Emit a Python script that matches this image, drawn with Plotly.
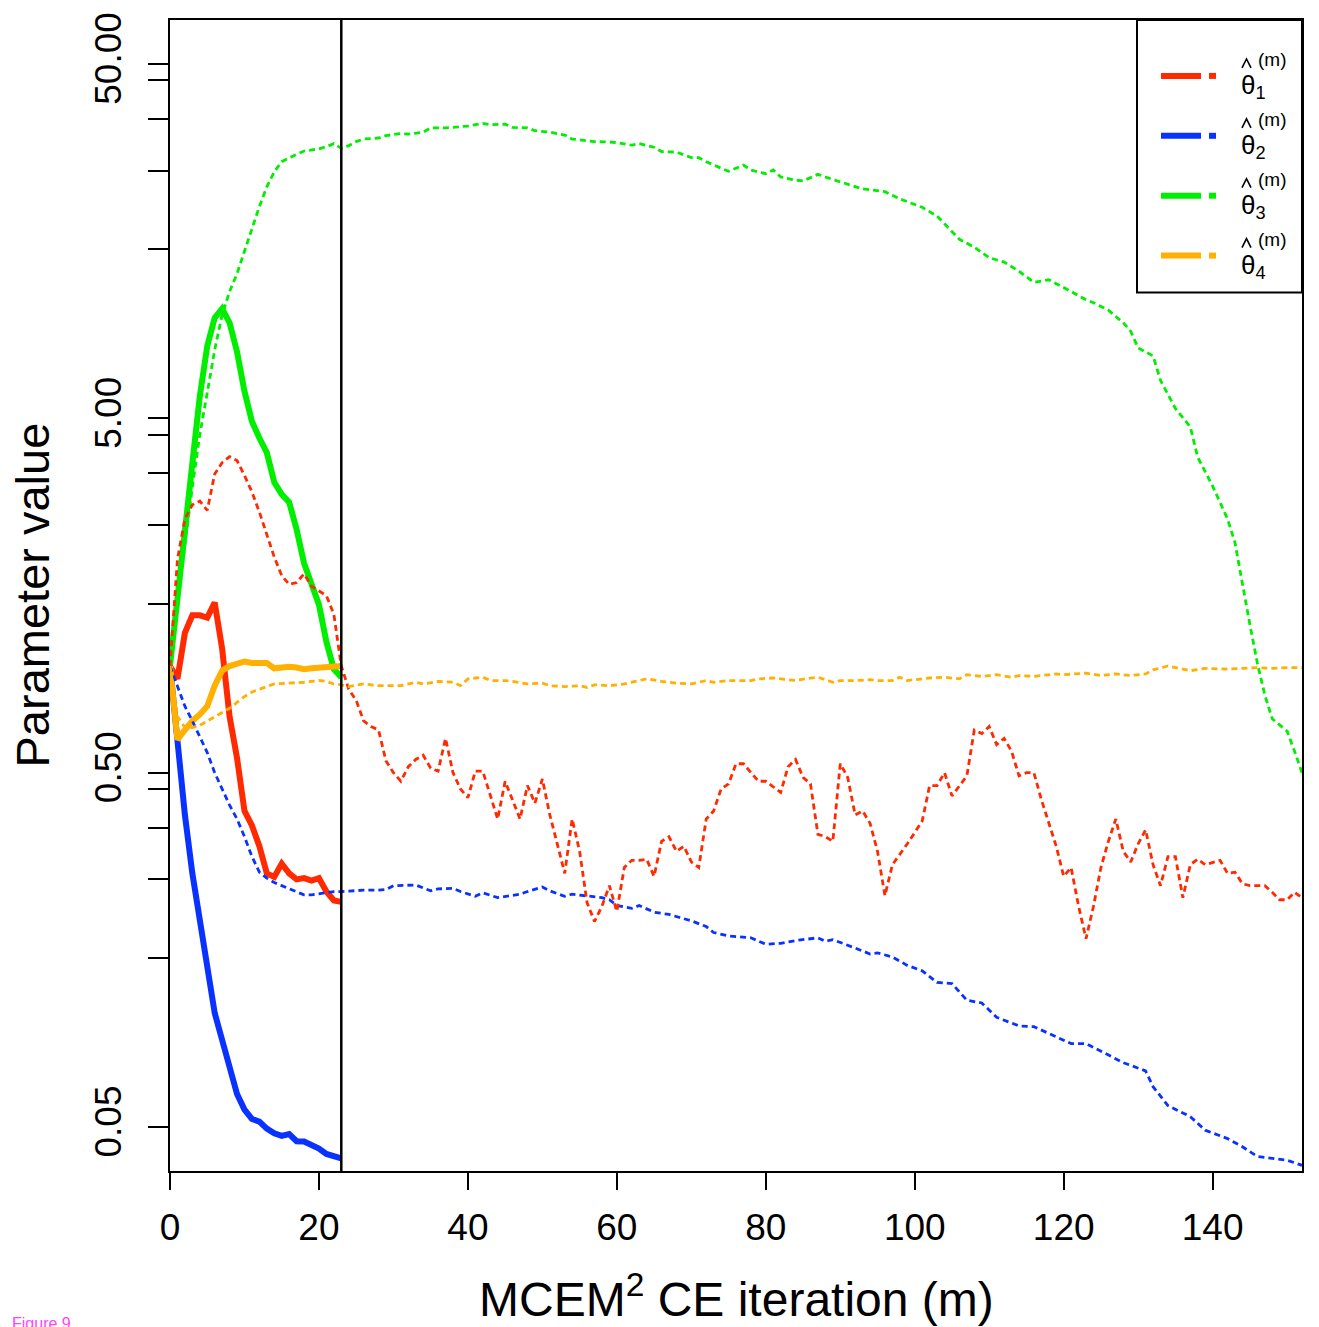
import plotly.graph_objects as go

FONT = "Liberation Sans, Arial, Helvetica, sans-serif"

# ---------------- data ----------------
series_names = ["theta1", "theta2", "theta3", "theta4"]
series_colors = ["#ff2a00", "#0a32ff", "#00ee00", "#ffb000"]

m_solid = list(range(24))
theta1_solid = [1.0, 0.92, 1.24, 1.39, 1.39, 1.37, 1.51, 1.12, 0.72, 0.55, 0.39, 0.355,
                0.31, 0.26, 0.254, 0.277, 0.26, 0.25, 0.252, 0.248, 0.252, 0.231, 0.218, 0.216]
theta2_solid = [1.0, 0.60, 0.38, 0.26, 0.19, 0.14, 0.105, 0.088, 0.073, 0.062, 0.056, 0.0527,
                0.0518, 0.0495, 0.048, 0.0472, 0.0478, 0.0456, 0.0455, 0.0447, 0.0435, 0.042, 0.0416, 0.0408]
theta3_solid = [1.0, 1.59, 2.43, 3.73, 5.77, 8.0, 9.6, 10.2, 9.3, 7.7, 5.96, 4.9,
                4.4, 4.0, 3.3, 3.05, 2.9, 2.43, 1.95, 1.68, 1.49, 1.17, 0.98, 0.93]
theta4_solid = [1.0, 0.62, 0.66, 0.70, 0.73, 0.77, 0.88, 0.97, 1.0, 1.02, 1.03, 1.02,
                1.02, 1.02, 0.985, 0.99, 0.995, 0.99, 0.98, 0.985, 0.99, 0.995, 1.0, 1.0]

m_theta1_dot = [0, 1, 2, 3, 4, 5, 6, 7, 8, 9, 10, 11, 12, 13, 14, 15, 16, 17, 18, 19, 20, 21, 22, 23,
                24, 25, 26, 27, 28, 29, 30, 31, 32, 33, 34, 35, 36, 37, 38, 39, 40, 41, 42, 43, 44,
                45, 46, 47, 48, 49, 50, 51, 52, 53, 54, 55, 56, 57, 58, 59, 60, 61, 62, 63, 64, 65,
                66, 67, 68, 69, 70, 71, 72, 73, 74, 75, 76, 77, 79, 80, 82, 83, 84, 85, 86, 87, 88,
                89, 90, 91, 92, 93, 94, 95, 96, 97, 99, 101, 102, 103, 104, 105, 107, 108, 109, 110,
                111, 112, 113, 114, 115, 116, 117, 118, 119, 120, 121, 122, 123, 124, 125, 126, 127,
                128, 129, 130, 131, 132, 133, 134, 135, 136, 137, 138, 139, 141, 142, 143, 144, 145,
                147, 148, 149, 150, 151, 152]
theta1_dot = [1.0, 2.0, 2.6, 2.85, 2.92, 2.75, 3.48, 3.75, 3.9, 3.8, 3.45, 3.1, 2.72, 2.35, 2.03,
              1.8, 1.7, 1.72, 1.82, 1.68, 1.63, 1.58, 1.4, 1.0,
              0.86, 0.80, 0.70, 0.675, 0.66, 0.54, 0.50, 0.473, 0.52, 0.545, 0.56, 0.515, 0.505,
              0.625, 0.50, 0.45, 0.425, 0.505, 0.505, 0.43, 0.37,
              0.473, 0.416, 0.37, 0.46, 0.41, 0.48, 0.38, 0.315, 0.26, 0.37, 0.30, 0.215, 0.19,
              0.21, 0.24, 0.203, 0.27, 0.283, 0.283, 0.285, 0.255,
              0.32, 0.33, 0.30, 0.31, 0.28, 0.27, 0.37, 0.39, 0.45, 0.465, 0.53, 0.53, 0.473,
              0.473, 0.44, 0.52, 0.545, 0.485, 0.465, 0.335, 0.33,
              0.32, 0.53, 0.485, 0.38, 0.39, 0.36, 0.30, 0.225, 0.275, 0.315, 0.365, 0.46, 0.46,
              0.50, 0.43, 0.49, 0.66, 0.645, 0.675,
              0.60, 0.625, 0.575, 0.49, 0.50, 0.50, 0.42, 0.36, 0.31, 0.255, 0.27, 0.21, 0.17,
              0.21, 0.27, 0.32, 0.37,
              0.30, 0.28, 0.315, 0.345, 0.275, 0.24, 0.29, 0.29, 0.222, 0.275, 0.285, 0.275,
              0.283, 0.26, 0.262, 0.243, 0.24,
              0.24, 0.23, 0.219, 0.219, 0.23, 0.222]

m_theta2_dot = [0, 1, 2, 3, 4, 5, 6, 7, 8, 9, 10, 11, 12, 13, 14, 15, 16, 17, 18, 19, 20, 21, 22, 23,
                24, 26, 28, 29, 30, 32, 33, 35, 36, 38, 39, 41, 42, 44, 45, 47, 48, 50, 51, 53, 54,
                56, 58, 59, 60, 61, 62, 63, 65, 67, 70, 72, 73, 75, 78, 80, 82, 84, 87, 88, 89, 92,
                94, 95, 97, 99, 101, 103, 105, 107, 109, 111, 114, 116, 118, 121, 123, 125, 128,
                131, 132, 134, 137, 139, 142, 144, 146, 148, 150, 152]
theta2_dot = [1.0, 0.88, 0.77, 0.70, 0.63, 0.57, 0.50, 0.45, 0.405, 0.37, 0.33, 0.29, 0.262,
              0.252, 0.245, 0.24, 0.235, 0.23, 0.226, 0.226, 0.228, 0.23, 0.231, 0.231,
              0.232, 0.233, 0.233, 0.234, 0.24, 0.24, 0.241, 0.232, 0.235, 0.236, 0.231, 0.224,
              0.229, 0.222, 0.224, 0.227, 0.231, 0.238, 0.232, 0.224, 0.227,
              0.224, 0.222, 0.219, 0.211, 0.209, 0.207, 0.211, 0.202, 0.199, 0.191, 0.184, 0.177,
              0.173, 0.171, 0.164, 0.165, 0.168, 0.171, 0.167, 0.169, 0.160,
              0.154, 0.155, 0.151, 0.143, 0.138, 0.128, 0.127, 0.114, 0.112, 0.102, 0.0965,
              0.096, 0.092, 0.086, 0.086, 0.082, 0.076,
              0.072, 0.065, 0.0575, 0.0535, 0.049, 0.0464, 0.044, 0.0413, 0.0408, 0.0403, 0.039]

m_theta3_dot = [0, 1, 2, 3, 4, 5, 6, 7, 8, 9, 10, 11, 12, 13, 14, 15, 16, 17, 18, 19, 20, 21, 22, 23,
                24, 25, 26, 28, 29, 31, 32, 34, 35, 37, 39, 40, 42, 43, 45, 46, 48, 49, 51, 53, 54,
                56, 57, 59, 60, 62, 63, 65, 66, 68, 70, 71, 72, 74, 75, 77, 78, 80, 81, 82, 84, 85,
                87, 89, 93, 96, 98, 101, 103, 104, 106, 108, 110, 112, 114, 116, 118, 120, 123, 124,
                126, 128, 129, 130, 132, 133, 135, 137, 138, 140, 142, 143, 144, 145, 146, 147, 148,
                150, 151, 152]
theta3_dot = [1.0, 1.5, 2.2, 3.2, 4.5, 5.9, 7.8, 9.8, 11.4, 12.8, 14.8, 17.0, 19.8, 22.5, 24.8,
              26.5, 27.2, 27.8, 28.4, 28.6, 28.8, 29.2, 29.8, 28.9,
              29.4, 30.2, 30.7, 30.9, 31.4, 31.8, 31.7, 32.1, 33.0, 33.0, 33.2, 33.4, 34.0, 33.7,
              33.8, 33.1, 33.0, 32.4, 32.1, 31.5, 30.7,
              30.3, 30.2, 30.1, 30.0, 29.5, 29.8, 29.1, 28.3, 28.2, 27.2, 27.2, 26.5, 25.4, 24.9,
              25.9, 25.1, 24.5, 25.1, 24.0, 23.5, 23.4,
              24.4, 23.6, 22.2, 21.8, 20.8, 19.7, 18.6, 17.7, 16.0, 15.2, 14.2, 13.8, 13.0, 12.1,
              12.3, 11.7, 10.8, 10.6,
              10.1, 9.3, 8.8, 7.9, 7.5, 6.4, 5.33, 4.73, 3.88, 3.22, 2.6, 2.23, 1.70, 1.31, 1.02,
              0.83, 0.71, 0.655, 0.575, 0.50]

m_theta4_dot = [0, 1, 2, 3, 4, 5, 6, 7, 8, 9, 10, 11, 12, 13, 14, 16, 18, 20, 21, 22, 23,
                24, 26, 28, 31, 33, 34, 36, 38, 39, 40, 42, 43, 45, 46, 48, 50, 51, 53, 55, 56, 57,
                59, 61, 62, 64, 66, 67, 68, 70, 72, 73, 75, 76, 78, 79, 81, 83, 84, 86, 87, 89, 90,
                92, 94, 95, 97, 98, 99, 101, 102, 104, 106, 107, 109, 110, 111, 113, 114, 116, 117,
                119, 120, 122, 123, 125, 127, 128, 129, 131, 132, 134, 136, 137, 139, 141, 142, 144,
                146, 148, 150, 152]
theta4_dot = [1.0, 0.72, 0.67, 0.67, 0.68, 0.70, 0.72, 0.74, 0.76, 0.79, 0.82, 0.845, 0.86,
              0.875, 0.89, 0.895, 0.90, 0.91, 0.905, 0.89, 0.885,
              0.875, 0.89, 0.88, 0.88, 0.90, 0.89, 0.905, 0.90, 0.88, 0.92, 0.93, 0.91, 0.91,
              0.905, 0.89, 0.895, 0.88, 0.875, 0.88, 0.87, 0.885,
              0.88, 0.89, 0.90, 0.92, 0.905, 0.90, 0.895, 0.89, 0.91, 0.90, 0.91, 0.91, 0.91,
              0.92, 0.925, 0.915, 0.91, 0.925, 0.93, 0.90, 0.91,
              0.91, 0.915, 0.91, 0.91, 0.93, 0.91, 0.92, 0.925, 0.93, 0.92, 0.945, 0.935, 0.94,
              0.945, 0.93, 0.94, 0.935, 0.94,
              0.95, 0.945, 0.95, 0.955, 0.94, 0.95, 0.945, 0.94, 0.95, 0.975, 1.0, 0.98, 0.97,
              0.985, 0.98, 0.98, 0.985,
              0.99, 0.985, 0.99, 0.99]

x_ticks = [0, 20, 40, 60, 80, 100, 120, 140]
y_ticks = [0.05, 0.15, 0.25, 0.35, 0.45, 0.5, 1.5, 2.5, 3.5, 4.5, 5, 15, 25, 35, 45, 50]
y_tick_text = ["0.05", "", "", "", "", "0.50", "", "", "", "", "5.00", "", "", "", "", "50.00"]
m_cut = 23

# ---------------- figure ----------------
fig = go.Figure()

solids = [theta3_solid, theta2_solid, theta1_solid, theta4_solid]
solid_colors = [series_colors[2], series_colors[1], series_colors[0], series_colors[3]]
for ys, col in zip(solids, solid_colors):
    fig.add_trace(go.Scatter(x=m_solid, y=ys, mode="lines",
                             line=dict(color=col, width=6), hoverinfo="skip"))

dots = [(m_theta3_dot, theta3_dot, series_colors[2]),
        (m_theta2_dot, theta2_dot, series_colors[1]),
        (m_theta1_dot, theta1_dot, series_colors[0]),
        (m_theta4_dot, theta4_dot, series_colors[3])]
for xs, ys, col in dots:
    fig.add_trace(go.Scatter(x=xs, y=ys, mode="lines",
                             line=dict(color=col, width=2.8, dash="6px,4px"), hoverinfo="skip"))

# plot geometry (pixels) for paper-coordinate decorations
L, R, T, B = 170, 1302, 18, 1171
PW, PH = R - L, B - T


def px(x):
    return (x - L) / PW


def py(y):
    return (B - y) / PH


shapes = [dict(type="line", xref="x", yref="paper", x0=m_cut, x1=m_cut, y0=0, y1=1,
               line=dict(color="black", width=2.5))]

# legend box
shapes.append(dict(type="rect", xref="paper", yref="paper", x0=px(1137), x1=1, y0=py(291), y1=1,
                   line=dict(color="black", width=2), fillcolor="white", layer="above"))
leg_y = [74, 134, 194, 254]
annotations = []
for i, (yy, col) in enumerate(zip(leg_y, series_colors)):
    shapes.append(dict(type="line", xref="paper", yref="paper", x0=px(1161), x1=px(1201),
                       y0=py(yy), y1=py(yy), line=dict(color=col, width=6), layer="above"))
    shapes.append(dict(type="line", xref="paper", yref="paper", x0=px(1209), x1=px(1216),
                       y0=py(yy), y1=py(yy), line=dict(color=col, width=6), layer="above"))
    # hat over theta
    hat = "M %.5f,%.5f L %.5f,%.5f L %.5f,%.5f" % (px(1242), py(yy - 8), px(1246.5), py(yy - 17),
                                                  px(1251), py(yy - 8))
    shapes.append(dict(type="path", xref="paper", yref="paper", path=hat,
                       line=dict(color="black", width=1.6), layer="above"))
    annotations.append(dict(xref="paper", yref="paper", x=px(1239), y=py(yy + 11),
                            text="θ<sub>%d</sub>" % (i + 1), showarrow=False,
                            xanchor="left", yanchor="middle", font=dict(size=26, family=FONT)))
    annotations.append(dict(xref="paper", yref="paper", x=px(1256), y=py(yy - 16),
                            text="(m)", showarrow=False,
                            xanchor="left", yanchor="middle", font=dict(size=19, family=FONT)))

# axis titles
annotations.append(dict(xref="paper", yref="paper", x=0.5, y=py(1296),
                        text="MCEM<sup>2</sup> CE iteration (m)", showarrow=False,
                        xanchor="center", yanchor="middle", font=dict(size=48, family=FONT)))
annotations.append(dict(xref="paper", yref="paper", x=px(32), y=0.5,
                        text="Parameter value", showarrow=False, textangle=-90,
                        xanchor="center", yanchor="middle", font=dict(size=47, family=FONT)))
annotations.append(dict(xref="paper", yref="paper", x=px(10), y=py(1324),
                        text="Figure 9", showarrow=False,
                        xanchor="left", yanchor="middle", font=dict(size=16, family=FONT, color="#ff44ff")))

fig.update_layout(width=1319, height=1327,
                  margin=dict(l=L, r=1319 - R, t=T, b=1327 - B),
                  plot_bgcolor="white", paper_bgcolor="white", showlegend=False,
                  font=dict(family=FONT, color="black"),
                  shapes=shapes, annotations=annotations)

fig.update_xaxes(range=[0, 152], tickvals=x_ticks, ticks="outside", ticklen=17, tickwidth=2,
                 tickcolor="black", showline=True, linewidth=2, linecolor="black", mirror=True,
                 showgrid=False, zeroline=False, tickfont=dict(size=37, family=FONT),
                 ticklabelstandoff=6)
fig.update_yaxes(type="log", range=[-1.425, 1.823], tickvals=y_ticks, ticktext=y_tick_text,
                 tickangle=-90, ticks="outside", ticklen=20, tickwidth=2, tickcolor="black",
                 showline=True, linewidth=2, linecolor="black", mirror=True,
                 showgrid=False, zeroline=False, tickfont=dict(size=37, family=FONT),
                 ticklabelstandoff=12)

fig.write_html("out.html", config={"displayModeBar": False},
               post_script="document.body.style.margin='0px';document.body.style.overflow='hidden';")
